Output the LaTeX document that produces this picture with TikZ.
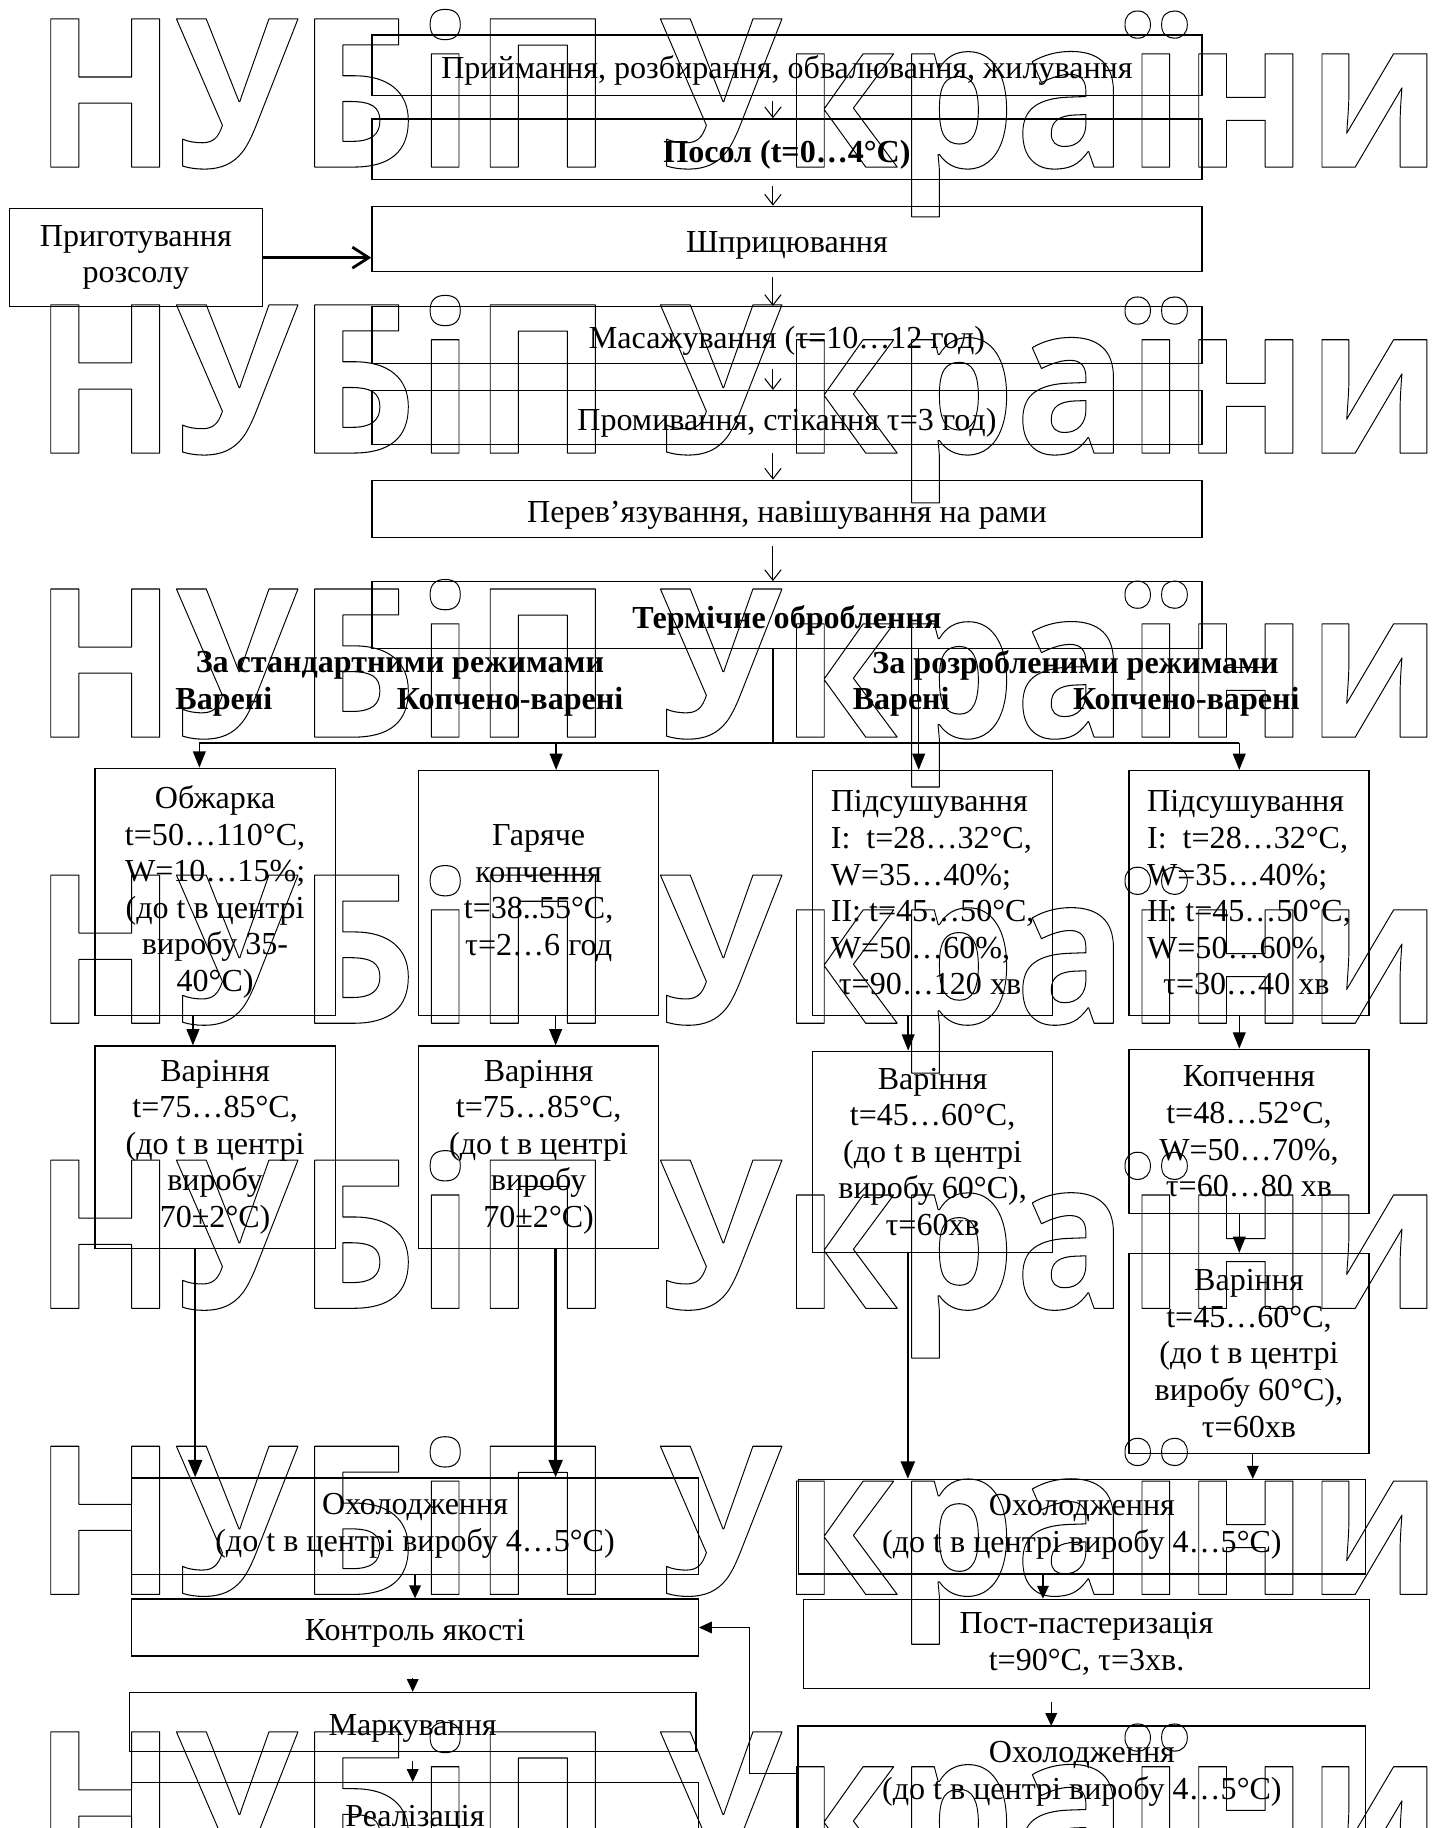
\documentclass[tikz,border=0pt]{standalone}
\usepackage{fontspec}
\setmainfont{Liberation Serif}
\newfontfamily\wmfont{Open Sans}
\usetikzlibrary{arrows.meta,positioning}
\newcommand{\boxfont}{\fontsize{27.5}{31.4}\selectfont}
\newcommand{\outlinetext}[1]{\scalebox{0.897}[1]{\special{pdf:literal direct 1 Tr 0.9 w 1 j}#1\special{pdf:literal direct 0 Tr}}}
\tikzset
{
    procbox/.style   = {draw=black, line width=1.1pt, inner sep=2pt, align=center},
    oneline/.style   = {text height=23pt, text depth=0pt},
    mainbox/.style   = {procbox, oneline, minimum width=712pt},
    colbox/.style    = {procbox, minimum width=206pt},
    widebox/.style   = {procbox, minimum width=486pt},
    boldtext/.style  = {font=\boxfont\bfseries},
    boxline/.style   = {line width=1.1pt},
    splitline/.style = {line width=1.5pt},
    thinarrow/.style = {-{Straight Barb[length=9pt,width=14pt]}, line width=0.9pt},
    thickarrow/.style= {-{Straight Barb[length=14pt,width=18pt]}, line width=2.4pt},
    distarrow/.style = {-{Triangle[length=14pt,width=11pt]}, line width=1.2pt},
    longarrow/.style = {-{Triangle[length=15pt,width=12pt]}, line width=2.2pt},
    smallarrow/.style= {-{Triangle[length=11pt,width=10pt]}, line width=1.1pt},
    watermark/.style = {anchor=base west, inner sep=0pt, font=\wmfont\bfseries\fontsize{178}{180}\selectfont}
}
\begin{document}
\begin{tikzpicture}[x=1pt, y=-1pt, font=\boxfont]
\useasboundingbox (0,0) rectangle (1238,1568);

% watermark rows
\foreach \by [count=\i] in {143.3,388.6,632.3,877.7,1122.2,1367.6,1612.6}
    \node[watermark] (wm\i) at (29,\by) {\outlinetext{НУБіП України}};

% preparation
\node[mainbox, minimum height=52pt] (priy) at (675,56) {Приймання, розбирання, обвалювання, жилування};
\node[mainbox, minimum height=52pt, boldtext] (posol) at (675,128) {Посол (t=0…4°C)};
\node[mainbox, minimum height=56pt] (shpryc) at (675,205) {Шприцювання};
\node[procbox, minimum width=217pt, minimum height=84pt] (rozsol) at (116.5,221) {Приготування\\розсолу};
\node[mainbox, minimum height=49pt] (masazh) at (675,287.5) {Масажування (τ=10…12 год)};
\node[mainbox, minimum height=46pt] (promyv) at (675,358) {Промивання, стікання τ=3 год)};
\node[mainbox, minimum height=49pt] (perev) at (675,436.5) {Перев’язування, навішування на рами};
\node[mainbox, minimum height=57pt, boldtext] (termo) at (675,527.5) {Термічне оброблення};

\draw[thinarrow, shorten <=4pt] (663,0 |- priy.south) -- (663,0 |- posol.north);
\draw[thinarrow, shorten <=5pt] (663,0 |- posol.south) -- (663,0 |- shpryc.north);
\draw[thickarrow] (rozsol.east) -- (rozsol.east -| shpryc.west);
\draw[thinarrow, shorten <=4pt] (663,0 |- shpryc.south) -- (663,0 |- masazh.north);
\draw[thinarrow, shorten <=4pt] (663,0 |- masazh.south) -- (663,0 |- promyv.north);
\draw[thinarrow, shorten <=7pt] (663,0 |- promyv.south) -- (663,0 |- perev.north);
\draw[thinarrow, shorten <=7pt] (663,0 |- perev.south) -- (663,0 |- termo.north);

% regime labels
\node[boldtext] (lblstd) at (343,571) {За стандартними режимами};
\node[boldtext] (lblstdv) at (192,602) {Варені};
\node[boldtext] (lblstdk) at (437.5,602) {Копчено-варені};
\node[boldtext] (lbldev) at (922.5,571) {За розробленими режимами};
\node[boldtext] (lbldevv) at (773,602) {Варені};
\node[boldtext] (lbldevk) at (1017.5,602) {Копчено-варені};

% first stage
\node[colbox, minimum height=212pt] (obzh) at (184.5,765) {Обжарка\\t=50…110°C,\\W=10…15\%;\\ (до t в центрі\\виробу 35-\\40°C)};
\node[colbox, minimum height=210pt] (garyache) at (462,766) {Гаряче\\копчення\\t=38..55°C,\\τ=2…6 год};
\node[colbox, minimum height=210pt, align=left] (pidsush1) at (800,766) {Підсушування\\I:\ \ t=28…32°C,\\W=35…40\%;\\II: t=45…50°C,\\W=50…60\%,\\\ τ=90…120 хв};
\node[colbox, minimum height=210pt, align=left] (pidsush2) at (1071.3,766) {Підсушування\\I:\ \ t=28…32°C,\\W=35…40\%;\\II: t=45…50°C,\\W=50…60\%,\\\ \ τ=30…40 хв};

\coordinate (brstd) at (171,637);
\coordinate (brkop) at (477,637);
\coordinate (brend) at (1063,637);
\draw[splitline] (663,0 |- termo.south) -- (663,637);
\draw[splitline] (brstd) -- (brend);
\draw[distarrow] (brstd) -- (brstd |- obzh.north);
\draw[distarrow] (brkop) -- (brkop |- garyache.north);
\draw[distarrow] (788,0 |- termo.south) -- (788,0 |- pidsush1.north);
\draw[distarrow] (brend) -- (brend |- pidsush2.north);

% second stage
\node[colbox, minimum height=173.5pt] (var1) at (184.5,984) {Варіння\\t=75…85°C,\\(до t в центрі\\виробу\\70±2°C)};
\node[colbox, minimum height=173.5pt] (var2) at (462,984) {Варіння\\t=75…85°C,\\(до t в центрі\\виробу\\70±2°C)};
\node[colbox, minimum height=172.5pt] (var3) at (800,988) {Варіння\\t=45…60°C,\\(до t в центрі\\виробу 60°C),\\τ=60хв};
\node[colbox, minimum height=141pt] (kopch) at (1071.3,970.5) {Копчення\\t=48…52°C,\\W=50…70\%,\\τ=60…80 хв};
\node[colbox, minimum height=171.6pt] (var4) at (1071.3,1161) {Варіння\\t=45…60°C,\\(до t в центрі\\виробу 60°C),\\τ=60хв};

\draw[distarrow] (165.5,0 |- obzh.south) -- (165.5,0 |- var1.north);
\draw[distarrow] (476.6,0 |- garyache.south) -- (476.6,0 |- var2.north);
\draw[distarrow] (779,0 |- pidsush1.south) -- (779,0 |- var3.north);
\draw[distarrow] (1063,0 |- pidsush2.south) -- (1063,0 |- kopch.north);
\draw[distarrow] (1063,0 |- kopch.south) -- (1063,0 |- var4.north);

% cooling and finishing
\node[widebox, minimum height=82.6pt] (ohol1) at (356,1309) {Охолодження\\(до t в центрі виробу 4…5°C)};
\node[widebox, oneline, minimum height=49pt] (kontrol) at (356,1396) {Контроль якості};
\node[widebox, oneline, minimum height=50.5pt] (mark) at (354,1477) {Маркування};
\node[widebox, oneline, minimum height=52pt] (realiz) at (356,1555) {Реалізація};
\node[widebox, minimum height=81pt] (ohol2) at (928,1309.5) {Охолодження\\(до t в центрі виробу 4…5°C)};
\node[widebox, minimum height=76.4pt] (post) at (932,1410) {Пост-пастеризація\\t=90°C, τ=3хв.};
\node[widebox, minimum height=81pt, draw=none] (ohol3) at (928,1521.5) {Охолодження\\(до t в центрі виробу 4…5°C)};
\draw[boxline] ([yshift=-40pt]ohol3.south west) -- (ohol3.north west) -- (ohol3.north east) -- ([yshift=-40pt]ohol3.south east);

\draw[longarrow] (167.4,0 |- var1.south) -- (167.4,0 |- ohol1.north);
\draw[longarrow] (476.6,0 |- var2.south) -- (476.6,0 |- ohol1.north);
\draw[longarrow] (778.7,0 |- var3.south) -- (778.7,0 |- ohol2.north);
\draw[smallarrow] (1074.6,0 |- var4.south) -- (1074.6,0 |- ohol2.north);

\draw[smallarrow] (ohol1.south) -- (kontrol.north);
\draw[smallarrow, shorten <=18pt] (mark.north |- kontrol.south) -- (mark.north);
\draw[smallarrow, shorten <=8pt] (mark.south) -- (mark.south |- realiz.north);
\draw[smallarrow] (894.6,0 |- ohol2.south) -- (894.6,0 |- post.north);
\draw[smallarrow, shorten <=11pt] (901.7,0 |- post.south) -- (901.7,0 |- ohol3.north);
\draw[smallarrow] (ohol3.west) -- ++(-41.7,0) |- (kontrol.east);
\end{tikzpicture}
\end{document}
